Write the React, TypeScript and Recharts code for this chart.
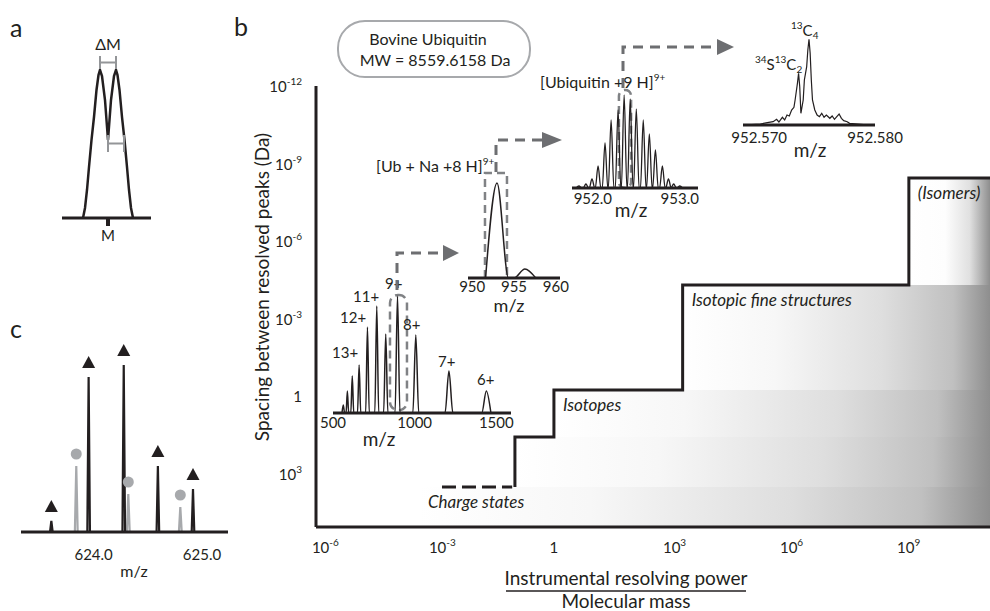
import React from 'react'
import { ComposedChart, Line, XAxis, YAxis, ReferenceArea, Scatter } from 'recharts'

const FONT = 'Lato, "Open Sans", sans-serif'
const INK = '#231f20'
const GREY = '#808285'

// ---- panel b: resolving-power staircase (log10 units) ----
const powerTicksX = [-6, -3, 0, 3, 6, 9]
const powerTicksY = [-12, -9, -6, -3, 0, 3]
const stepX = [-1.0, 0.0, 3.3, 9.1, 11.18]
const stepY = [3.52, 1.59, -0.23, -4.3, -8.44]
const chargeDashX = [-2.87, -1.07]
const bandStartX = [-3.46, -1.0, 0.0, 3.3, 9.1]
const bandLabels = ['Charge states', '', 'Isotopes', 'Isotopic fine structures', '(Isomers)']

// ---- inset: charge state envelope ----
const csMz = [563, 588, 618, 660, 711, 768, 823, 895, 1007, 1210, 1439]
const csInt = [8, 22, 37, 48, 86, 107, 79, 117, 78, 42, 22]
const csWidth = [8, 8, 9, 10, 11, 12, 13, 15, 18, 24, 28]

// ---- inset: [Ub + Na + 8H]9+ ----
const naMz = [952.97, 956.3]
const naInt = [95, 9]
const naWidth = [1.37, 1.3]

// ---- inset: isotopic distribution ----
const isoMz = [951.84, 951.92, 951.99, 952.06, 952.14, 952.21, 952.29, 952.36, 952.43, 952.5, 952.58, 952.65, 952.72, 952.8, 952.87, 952.93, 953.0]
const isoInt = [2, 4, 9, 22, 45, 68, 78, 93, 89, 79, 68, 54, 38, 22, 9, 4, 2]

// ---- inset: isotopic fine structure ----
const fineMz = [952.5686, 952.5701, 952.5707, 952.5712, 952.5715, 952.5717, 952.572, 952.5722, 952.5724, 952.5726, 952.5728, 952.573, 952.5731, 952.5733, 952.5734, 952.5735, 952.5736, 952.5738, 952.5739, 952.5741, 952.5742, 952.5743, 952.5744, 952.5745, 952.5746, 952.5748, 952.575, 952.5752, 952.5754, 952.5756, 952.5758, 952.5761, 952.5763, 952.5765, 952.5767, 952.5769, 952.5771, 952.5773, 952.5776, 952.5778, 952.5795]
const fineInt = [0, 1, 2.3, 3.3, 5.7, 3, 7.7, 5, 10, 9, 15, 17.7, 25, 41.7, 51.7, 38.3, 11.7, 25, 45, 58.3, 75, 85.7, 71.7, 45, 25, 15, 10, 8.3, 11.7, 7.7, 10, 6.7, 9, 5.7, 8.3, 11, 6.7, 4.3, 3.3, 1.7, 0]

// ---- panel a: two partly resolved peaks ----
const aX = [21, 23, 25, 27, 29.5, 32, 34.5, 36.5, 38, 40, 43, 46, 49, 52, 54, 55.5, 57.5, 60, 62.5, 65, 67, 69, 71]
const aY = [0, 10, 28, 51, 78, 101, 128, 143, 148, 142, 118, 78, 118, 142, 148, 143, 128, 101, 78, 51, 28, 10, 0]

// ---- panel c: overlapping isotope clusters ----
const cMzTri = [623.61, 623.954, 624.278, 624.593, 624.917]
const cIntTri = [11, 155, 167, 66, 43]
const cMzDot = [623.84, 624.32, 624.8]
const cIntDot = [66, 38, 25]

type Pt = { x: number; y: number | null }

const peaks = (mz: number[], inten: number[], w: number[] | number, gaps = false): Pt[] => {
  const out: Pt[] = []
  mz.forEach((m, i) => {
    const hw = Array.isArray(w) ? w[i] : w
    out.push({ x: m - hw, y: 0 }, { x: m, y: inten[i] }, { x: m + hw, y: 0 })
    if (gaps) out.push({ x: m + hw * 1.01, y: null })
  })
  return out
}
const zip = (xs: number[], ys: number[]): Pt[] => xs.map((x, i) => ({ x, y: ys[i] }))

const stepData = zip(stepX, stepY)
const dashData = chargeDashX.map((x) => ({ x, y: stepY[0] }))

const PowerTickX = ({ x, y, payload }: any) => {
  const e = payload.value
  if (e === 0) return <text x={x} y={y + 24} textAnchor="middle" fontSize={15} fill={INK} fontFamily={FONT}>1</text>
  return (
    <text x={x - 8} y={y + 24} fontSize={15} fill={INK} fontFamily={FONT}>
      10<tspan fontSize={10} dy={-7}>{e}</tspan>
    </text>
  )
}

const PowerTickY = ({ x, y, payload }: any) => {
  const e = payload.value
  if (e === 0) return <text x={x - 12} y={y + 6} textAnchor="end" fontSize={15} fill={INK} fontFamily={FONT}>1</text>
  return (
    <text x={x - 12} y={y + 6} textAnchor="end" fontSize={15} fill={INK} fontFamily={FONT}>
      10<tspan fontSize={10} dy={-7}>{e}</tspan>
    </text>
  )
}

const P = 40

function Inset(props: any) {
  const { left, top, width, height, xDomain, yDomain, ticks, fmt, margin = 4, tickLine = false, tickSize = 0, children } = props
  return (
    <div style={{ position: 'absolute', left: left - P, top: top - P }}>
      <ComposedChart width={width + 2 * P} height={height + 2 * P + 30} margin={{ top: P, right: P, bottom: P, left: P }}>
        <XAxis
          type="number" dataKey="x" domain={xDomain} ticks={ticks} interval={0} height={30}
          tickFormatter={fmt} axisLine={{ stroke: INK, strokeWidth: 3 }}
          tickLine={tickLine} tickSize={tickSize} tickMargin={margin}
          tick={{ fill: INK, fontSize: 15, fontFamily: FONT }}
        />
        <YAxis hide type="number" dataKey="y" domain={yDomain} />
        {children}
      </ComposedChart>
    </div>
  )
}

const roundBox = (rx: number) => (p: any) => (
  <rect x={p.x} y={p.y} width={p.width} height={p.height} rx={rx} fill="none" stroke={GREY} strokeWidth={2.5} strokeDasharray="8 5" />
)
const openBox = (p: any) => (
  <path d={`M${p.x},${p.y + p.height} V${p.y} H${p.x + p.width} V${p.y + p.height}`} fill="none" stroke={GREY} strokeWidth={2.5} strokeDasharray="8 5" />
)

const bandStops = [
  [0, '#ffffff'], [0.3, '#f7f7f7'], [0.65, '#dedede'], [0.88, '#c0c0c0'], [1, '#8e8e8e'],
]
const isomerStops = [
  [0, '#ffffff'], [0.45, '#fdfdfd'], [0.75, '#e0e0e0'], [1, '#8e8e8e'],
]

const Arrow = ({ d, head }: { d: string; head: string }) => (
  <g>
    <path d={d} fill="none" stroke="#6d6e71" strokeWidth={3} strokeDasharray="10 7" />
    <polygon points={head} fill="#6d6e71" />
  </g>
)

const T = (p: any) => <text fill={INK} fontFamily={FONT} fontSize={16} {...p} />

export default function App() {
  const bands = bandStartX.map((x1, i) => ({
    x1,
    x2: 11.18,
    y1: i === 0 ? 5.07 : stepY[i - 1],
    y2: stepY[i],
  }))
  return (
    <div style={{ position: 'relative', width: 990, height: 611, overflow: 'hidden', background: '#fff', fontFamily: FONT }}>
      <style>{'body{margin:0}'}</style>

      {/* panel b */}
      <div style={{ position: 'absolute', left: 0, top: 0 }}>
        <ComposedChart width={990} height={611} margin={{ top: 86, right: 0, bottom: 0, left: 0 }}>
          <defs>
            {bands.map((_, i) => (
              <linearGradient key={i} id={`band${i}`} x1="0" y1="0" x2="1" y2="0">
                {(i === 4 ? isomerStops : bandStops).map(([o, c]) => (
                  <stop key={o as number} offset={o as number} stopColor={c as string} />
                ))}
              </linearGradient>
            ))}
          </defs>
          <XAxis
            type="number" dataKey="x" domain={[-6.1, 11.18]} ticks={powerTicksX} interval={0} height={84}
            axisLine={{ stroke: INK, strokeWidth: 3 }} tickLine={false} tickSize={0} tick={<PowerTickX />}
          />
          <YAxis
            type="number" dataKey="y" reversed domain={[-12, 5.07]} ticks={powerTicksY} interval={0} width={316}
            axisLine={{ stroke: INK, strokeWidth: 3 }} tickLine={false} tickSize={0} tick={<PowerTickY />}
          />
          {bands.map((b, i) => (
            <ReferenceArea
              key={i} x1={b.x1} x2={b.x2} y1={b.y1} y2={b.y2} fill={`url(#band${i})`} fillOpacity={1} stroke="none"
              label={bandLabels[i] ? {
                value: bandLabels[i], position: 'insideTopLeft', offset: 9,
                fill: INK, fontSize: 17, fontStyle: 'italic', fontFamily: FONT,
              } : undefined}
            />
          ))}
          <Line data={dashData} dataKey="y" type="linear" stroke={INK} strokeWidth={3} strokeDasharray="14 6" dot={false} activeDot={false} isAnimationActive={false} />
          <Line data={stepData} dataKey="y" type="stepBefore" stroke={INK} strokeWidth={3} dot={false} activeDot={false} isAnimationActive={false} />
        </ComposedChart>
      </div>

      {/* charge state spectrum */}
      <Inset left={333} top={293} width={178} height={120} xDomain={[500, 1590]} yDomain={[0, 120]} ticks={[500, 1000, 1500]} margin={4}>
        <ReferenceArea x1={849} x2={953} y1={3} y2={118} ifOverflow="visible" shape={roundBox(8)} />
        <Line data={peaks(csMz, csInt, csWidth)} dataKey="y" type="monotone" stroke={INK} strokeWidth={1.5} dot={false} activeDot={false} isAnimationActive={false} />
      </Inset>

      {/* [Ub + Na + 8H]9+ */}
      <Inset left={468} top={172} width={92} height={106} xDomain={[949.5, 960.5]} yDomain={[0, 106]} ticks={[950, 955, 960]} margin={3}>
        <ReferenceArea x1={951.53} x2={954.16} y1={0} y2={105} ifOverflow="visible" shape={openBox} />
        <Line data={peaks(naMz, naInt, naWidth)} dataKey="y" type="monotone" stroke={INK} strokeWidth={1.5} dot={false} activeDot={false} isAnimationActive={false} />
      </Inset>

      {/* isotopic distribution */}
      <Inset left={572} top={88} width={126} height={100} xDomain={[951.76, 953.21]} yDomain={[0, 100]} ticks={[952, 953]} fmt={(v: number) => v.toFixed(1)} margin={5}>
        <Line data={peaks(isoMz, isoInt, 0.032)} dataKey="y" type="monotone" stroke={INK} strokeWidth={1.3} dot={false} activeDot={false} isAnimationActive={false} />
        <ReferenceArea x1={952.3} x2={952.44} y1={0} y2={98} ifOverflow="visible" shape={roundBox(6)} />
      </Inset>

      {/* fine structure */}
      <Inset left={743} top={35} width={132} height={90} xDomain={[952.5686, 952.58]} yDomain={[0, 90]} ticks={[952.57, 952.58]} fmt={(v: number) => v.toFixed(3)} margin={7}>
        <Line data={zip(fineMz, fineInt)} dataKey="y" type="linear" stroke={INK} strokeWidth={1.2} dot={false} activeDot={false} isAnimationActive={false} />
      </Inset>

      {/* panel a */}
      <Inset
        left={62} top={68} width={89} height={150} xDomain={[0, 89]} yDomain={[0, 150]} ticks={[46]} fmt={() => 'M'}
        margin={4} tickLine={{ stroke: INK, strokeWidth: 4 }} tickSize={8}
      >
        <Line data={zip(aX, aY)} dataKey="y" type="linear" stroke={INK} strokeWidth={2.5} dot={false} activeDot={false} isAnimationActive={false} />
      </Inset>

      {/* panel c */}
      <Inset left={21} top={332} width={207} height={200} xDomain={[623.33, 625.24]} yDomain={[0, 200]} ticks={[624, 625]} fmt={(v: number) => v.toFixed(1)} margin={17}>
        <Line data={peaks(cMzDot, cIntDot, 0.013, true)} dataKey="y" type="linear" stroke="#a7a9ac" strokeWidth={2.2} dot={false} activeDot={false} isAnimationActive={false} />
        <Line data={peaks(cMzTri, cIntTri, 0.012, true)} dataKey="y" type="linear" stroke={INK} strokeWidth={2.2} dot={false} activeDot={false} isAnimationActive={false} />
        <Scatter
          data={zip(cMzTri, cIntTri.map((h) => h + 14))} isAnimationActive={false}
          shape={(p: any) => <polygon points={`${p.cx},${p.cy - 7} ${p.cx - 6.5},${p.cy + 5} ${p.cx + 6.5},${p.cy + 5}`} fill={INK} />}
        />
        <Scatter
          data={zip(cMzDot, cIntDot.map((h) => h + 12))} isAnimationActive={false}
          shape={(p: any) => <circle cx={p.cx} cy={p.cy} r={5.5} fill="#a7a9ac" />}
        />
      </Inset>

      {/* annotations */}
      <svg width={990} height={611} style={{ position: 'absolute', left: 0, top: 0, pointerEvents: 'none' }}>
        <T x={10} y={37} fontSize={25}>a</T>
        <T x={234} y={36} fontSize={25}>b</T>
        <T x={10} y={338} fontSize={25}>c</T>

        {/* panel a brackets */}
        <T x={108} y={50} textAnchor="middle" fontSize={16}>ΔM</T>
        <path d="M100,56 V69 M116,56 V69 M100,62.5 H116" stroke="#939598" strokeWidth={2} fill="none" />
        <path d="M108,135 V152 M124,135 V152 M108,143.5 H124" stroke="#939598" strokeWidth={2} fill="none" />

        {/* molecule box */}
        <rect x={338} y={21} width={192} height={56} rx={27} fill="none" stroke="#a7a9ac" strokeWidth={2} />
        <T x={428} y={45} textAnchor="middle">Bovine Ubiquitin</T>
        <T x={435} y={66} textAnchor="middle">MW = 8559.6158 Da</T>

        {/* charge labels */}
        <T x={332} y={358} fontSize={15}>13+</T>
        <T x={340} y={323} fontSize={15}>12+</T>
        <T x={353} y={302} fontSize={15}>11+</T>
        <T x={385} y={289} fontSize={15}>9+</T>
        <T x={403} y={330} fontSize={15}>8+</T>
        <T x={438} y={367} fontSize={15}>7+</T>
        <T x={477} y={385} fontSize={15}>6+</T>

        <T x={376} y={172}>[Ub + Na +8 H]<tspan fontSize={10} dy={-7}>9+</tspan></T>
        <T x={540} y={88}>[Ubiquitin +9 H]<tspan fontSize={10} dy={-7}>9+</tspan></T>
        <T x={791} y={36} fontSize={15}><tspan fontSize={10} dy={-7}>13</tspan><tspan dy={7}>C</tspan><tspan fontSize={10} dy={3}>4</tspan></T>
        <T x={755} y={70} fontSize={15}><tspan fontSize={10} dy={-7}>34</tspan><tspan dy={7}>S</tspan><tspan fontSize={10} dy={-7}>13</tspan><tspan dy={7}>C</tspan><tspan fontSize={10} dy={3}>2</tspan></T>

        {/* m/z captions */}
        <T x={379} y={446} textAnchor="middle" fontSize={19}>m/z</T>
        <T x={509} y={312} textAnchor="middle" fontSize={18}>m/z</T>
        <T x={631} y={217} textAnchor="middle" fontSize={19}>m/z</T>
        <T x={810} y={157} textAnchor="middle" fontSize={19}>m/z</T>
        <T x={134} y={577} textAnchor="middle" fontSize={16}>m/z</T>

        {/* zoom arrows */}
        <Arrow d="M397,290 V253 H444" head="443,245 459,253 443,261" />
        <Arrow d="M496,172 V140 H543" head="542,132 562,140 542,148" />
        <Arrow d="M623,88 V47 H718" head="717,39 734,47 717,55" />

        {/* axis titles */}
        <T x={0} y={0} fontSize={19} textAnchor="middle" transform="translate(269,287) rotate(-90)">Spacing between resolved peaks (Da)</T>
        <T x={626} y={585} fontSize={19} textAnchor="middle">Instrumental resolving power</T>
        <line x1={506} x2={746} y1={591} y2={591} stroke={INK} strokeWidth={1.5} />
        <T x={626} y={608} fontSize={19} textAnchor="middle">Molecular mass</T>
      </svg>
    </div>
  )
}
